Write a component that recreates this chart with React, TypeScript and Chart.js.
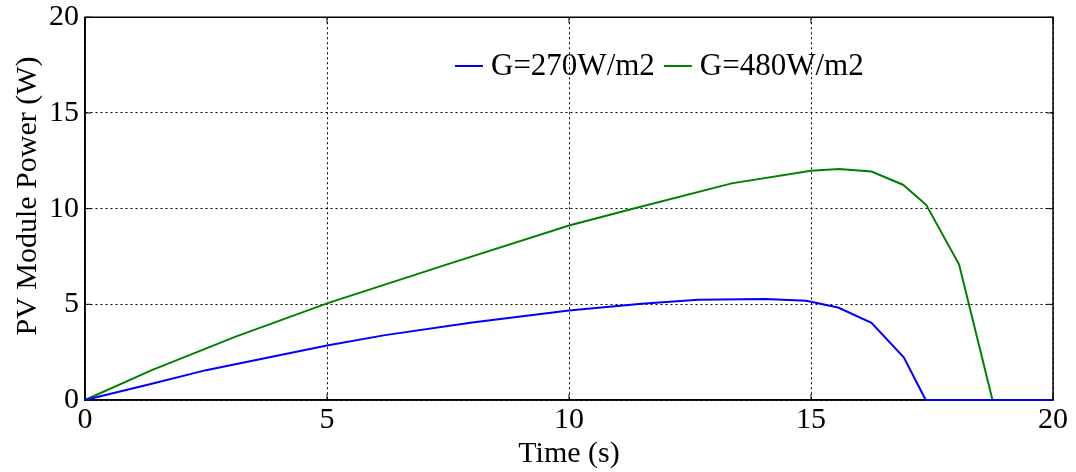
import React, { useEffect, useRef } from "react";
import { Chart, registerables } from "chart.js";

Chart.register(...registerables);

const timeBlue = [0, 1.38, 2.5, 5, 6.2, 8, 10, 11.5, 12.67, 14.05, 14.9, 15.56, 16.25, 16.92, 17.37, 20];
const powerBlue = [0, 0.85, 1.56, 2.85, 3.39, 4.05, 4.68, 5.03, 5.24, 5.28, 5.18, 4.83, 4.03, 2.22, 0, 0];

const timeGreen = [0, 1.38, 3.1, 5, 7.5, 10, 11.3, 13.36, 15, 15.58, 16.25, 16.9, 17.38, 18.06, 18.75, 20];
const powerGreen = [0, 1.56, 3.3, 5.05, 7.1, 9.12, 9.98, 11.32, 11.98, 12.07, 11.94, 11.25, 10.2, 7.08, 0, 0];

const seriesLabels = ["G=270W/m2", "G=480W/m2"];
const seriesColors = ["#0000ff", "#008000"];
const tickValues = [0, 5, 10, 15, 20];
const yTitle = "PV Module Power (W)";

const FONT = "'Liberation Serif', 'Times New Roman', serif";

const framePlugin = {
  id: "frame",
  beforeDatasetsDraw(chart: any) {
    const { ctx, chartArea } = chart;
    const { left, right, top, bottom } = chartArea;
    const xs = chart.scales.x;
    const ys = chart.scales.y;
    ctx.save();
    ctx.strokeStyle = "#000";
    ctx.lineWidth = 1.5;
    ctx.setLineDash([]);
    ctx.strokeRect(left, top, right - left, bottom - top);
    const tl = 6;
    ctx.lineWidth = 1;
    tickValues.forEach((v) => {
      const px = xs.getPixelForValue(v);
      ctx.beginPath();
      ctx.moveTo(px, bottom);
      ctx.lineTo(px, bottom - tl);
      ctx.moveTo(px, top);
      ctx.lineTo(px, top + tl);
      const py = ys.getPixelForValue(v);
      ctx.moveTo(left, py);
      ctx.lineTo(left + tl, py);
      ctx.moveTo(right, py);
      ctx.lineTo(right - tl, py);
      ctx.stroke();
    });
    ctx.restore();
  },
  afterDatasetsDraw(chart: any) {
    const { ctx } = chart;
    ctx.save();
    // y title
    ctx.font = `30px ${FONT}`;
    ctx.fillStyle = "#000";
    ctx.textAlign = "center";
    ctx.textBaseline = "middle";
    ctx.translate(28, 196);
    ctx.rotate(-Math.PI / 2);
    ctx.fillText(yTitle, 0, 0);
    ctx.restore();
    ctx.save();
    // legend
    ctx.font = `31px ${FONT}`;
    ctx.textBaseline = "middle";
    ctx.textAlign = "left";
    let x = 455;
    const y = 66;
    chart.data.datasets.forEach((ds: any) => {
      ctx.strokeStyle = ds.borderColor;
      ctx.lineWidth = 2;
      ctx.beginPath();
      ctx.moveTo(x, y);
      ctx.lineTo(x + 28, y);
      ctx.stroke();
      ctx.fillStyle = "#000";
      ctx.fillText(ds.label, x + 36, y + 1);
      x += 36 + ctx.measureText(ds.label).width + 9;
    });
    ctx.restore();
  },
};

export default function App() {
  const ref = useRef<HTMLCanvasElement>(null);
  useEffect(() => {
    document.body.style.margin = "0";
    const canvas = ref.current!;
    const mk = (t: number[], p: number[]) => t.map((x, i) => ({ x, y: p[i] }));
    const chart = new Chart(canvas, {
      type: "line",
      data: {
        datasets: [
          {
            label: seriesLabels[0],
            data: mk(timeBlue, powerBlue),
            borderColor: seriesColors[0],
            backgroundColor: seriesColors[0],
            borderWidth: 2,
            pointRadius: 0,
            tension: 0,
            clip: 4,
          },
          {
            label: seriesLabels[1],
            data: mk(timeGreen, powerGreen),
            borderColor: seriesColors[1],
            backgroundColor: seriesColors[1],
            borderWidth: 2,
            pointRadius: 0,
            tension: 0,
            clip: 4,
          },
        ],
      },
      options: {
        animation: false,
        responsive: false,
        maintainAspectRatio: false,
        layout: { padding: { top: 16, right: 23, left: 0, bottom: 0 } },
        plugins: { legend: { display: false }, tooltip: { enabled: false } },
        scales: {
          x: {
            type: "linear",
            min: 0,
            max: 20,
            ticks: { stepSize: 5, color: "#000", font: { family: FONT, size: 30 }, padding: 2, maxRotation: 0 },
            grid: { color: "#000", lineWidth: 1, drawTicks: false },
            border: { display: true, color: "#000", width: 1.5, dash: [2, 3] },
            title: { display: true, text: "Time (s)", color: "#000", font: { family: FONT, size: 30 }, padding: 0 },
            afterFit: (s: any) => { s.height = 72; },
          },
          y: {
            type: "linear",
            min: 0,
            max: 20,
            ticks: { stepSize: 5, color: "#000", font: { family: FONT, size: 30, lineHeight: 0.75 }, padding: 6 },
            grid: { color: "#000", lineWidth: 1, drawTicks: false },
            border: { display: true, color: "#000", width: 1.5, dash: [2, 3] },
            title: { display: false, text: yTitle },
            afterFit: (s: any) => { s.width = 85; },
          },
        },
      },
      plugins: [framePlugin],
    } as any);
    return () => chart.destroy();
  }, []);
  return (
    <div style={{ width: 1076, height: 472 }}>
      <canvas ref={ref} width={1076} height={472} style={{ display: "block", width: 1076, height: 472 }} />
    </div>
  );
}
